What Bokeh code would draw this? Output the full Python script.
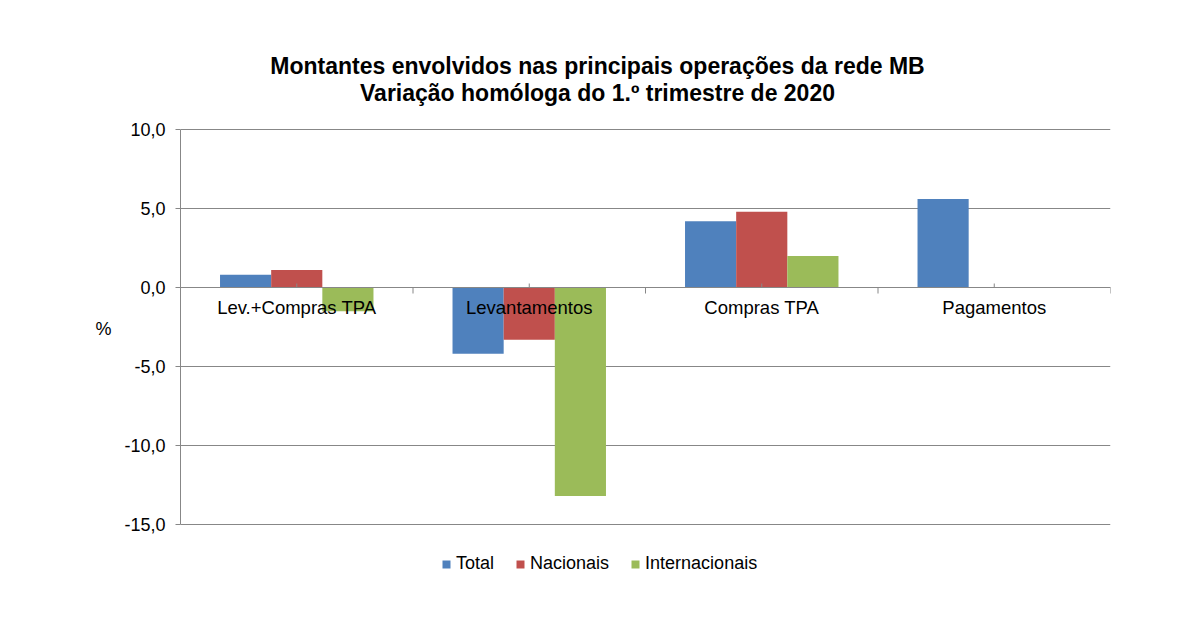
from bokeh.plotting import figure
from bokeh.models import FixedTicker, Legend, LegendItem, ColumnDataSource, Range1d, Label
from bokeh.transform import dodge
from bokeh.core.properties import value
from bokeh.embed import file_html
from bokeh.resources import INLINE

categories = ["Lev.+Compras TPA", "Levantamentos", "Compras TPA", "Pagamentos"]
total = [0.8, -4.2, 4.2, 5.6]
nacionais = [1.1, -3.3, 4.8, float("nan")]
internacionais = [-1.5, -13.2, 2.0, float("nan")]
series_names = ["Total", "Nacionais", "Internacionais"]
y_ticks = [-15, -10, -5, 0, 5, 10]
y_tick_labels = ["-15,0", "-10,0", "-5,0", "0,0", "5,0", "10,0"]
title_lines = ["Montantes envolvidos nas principais operações da rede MB",
               "Variação homóloga do 1.º trimestre de 2020"]

colors = ["#4F81BD", "#C0504D", "#9BBB59"]
FONT = "Liberation Sans"
GRID = "#878787"

# layout (pixels)
W, H = 1184, 612
FL, FR, FT, FB = 180, 1110, 44, 612          # frame edges
AX_TOP, AX_BOT = 129, 524                      # pixel rows of 10 and -15
ppu = (AX_BOT - AX_TOP) / (y_ticks[-1] - y_ticks[0])
y_end = y_ticks[-1] + (AX_TOP - FT) / ppu
y_start = y_ticks[0] - (FB - AX_BOT) / ppu

n = len(categories)
xc = [i + 0.5 for i in range(n)]
src = ColumnDataSource(dict(x=xc, cat=categories, total=total,
                            nacionais=nacionais, internacionais=internacionais))

p = figure(width=W, height=H, x_range=Range1d(0, n), y_range=Range1d(y_start, y_end),
           output_backend="svg", toolbar_location=None,
           min_border_left=FL, min_border_right=W - FR, min_border_top=FT, min_border_bottom=H - FB)
p.outline_line_color = None
p.background_fill_color = "white"

bw = 0.22
renderers = []
for k, (col, c) in enumerate(zip(["total", "nacionais", "internacionais"], colors)):
    r = p.vbar(x=dodge("x", (k - 1) * bw, range=p.x_range), top=col, bottom=0, width=bw,
               source=src, fill_color=c, line_color=None)
    renderers.append(r)

# zero axis line with ticks
p.segment(x0=[0], y0=[0], x1=[n], y1=[0], line_color=GRID, line_width=1)
p.segment(x0=[i + 1 for i in range(n)], y0=[0] * n, x1=[i + 1 for i in range(n)], y1=[-6 / ppu] * n,
          line_color=GRID, line_width=1)
p.segment(x0=xc, y0=[0] * n, x1=xc, y1=[4 / ppu] * n, line_color=GRID, line_width=1)

p.text(x="x", y=0, text="cat", source=src, y_offset=20, text_align="center",
       text_baseline="middle", text_font=value(FONT), text_font_size="18.5px", text_color="black")

p.xaxis.visible = False
p.xgrid.visible = False
p.ygrid.grid_line_color = GRID
p.ygrid.ticker = FixedTicker(ticks=y_ticks)

ya = p.yaxis[0]
ya.ticker = FixedTicker(ticks=y_ticks)
ya.bounds = (y_ticks[0], y_ticks[-1])
ya.major_label_overrides = {t: l for t, l in zip(y_ticks, y_tick_labels)}
ya.axis_line_color = GRID
ya.major_tick_line_color = GRID
ya.major_tick_out = 5
ya.major_tick_in = 0
ya.minor_tick_line_color = None
ya.major_label_standoff = 10
ya.major_label_text_font = FONT
ya.major_label_text_font_size = "18px"
ya.major_label_text_color = "black"
ya.axis_label = "%"
ya.axis_label_orientation = "horizontal"
ya.axis_label_text_font = FONT
ya.axis_label_text_font_size = "18px"
ya.axis_label_text_font_style = "normal"
ya.axis_label_text_color = "black"
ya.axis_label_standoff = 10

p.title.visible = False
for line, cy in zip(title_lines, [65, 92]):
    p.add_layout(Label(x=597 - FL, y=FB - cy, x_units="screen", y_units="screen", text=line,
                       text_align="center", text_baseline="middle", text_font=FONT,
                       text_font_size="23px", text_font_style="bold", text_color="black"))

legend = Legend(items=[LegendItem(label=s, renderers=[r]) for s, r in zip(series_names, renderers)],
                orientation="horizontal", location=(261, FB - 574), glyph_width=10, glyph_height=10,
                label_text_font=FONT, label_text_font_size="18px", label_text_color="black",
                label_standoff=5, spacing=21,
                border_line_color=None, background_fill_alpha=0, padding=0, margin=0)
p.add_layout(legend, "center")

open("out.html", "w").write(file_html(p, INLINE))
